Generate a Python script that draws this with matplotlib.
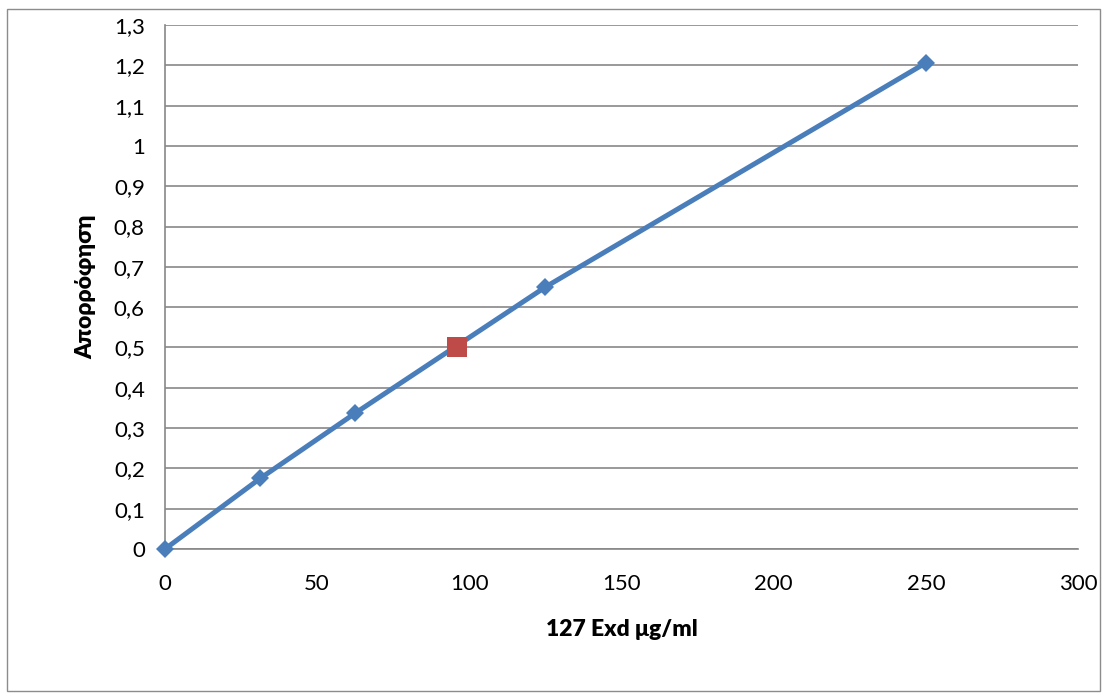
import matplotlib
matplotlib.use("Agg")
import matplotlib.pyplot as plt
from matplotlib.ticker import FuncFormatter, MultipleLocator
from matplotlib.patches import Rectangle

conc = [0, 31.25, 62.5, 125, 250]
absorb = [0, 0.175, 0.337, 0.650, 1.206]
sample_x = [96]
sample_y = [0.5]
x_label = "127 Exd μg/ml"
y_label = "Απορρόφηση"

plt.rcParams['font.family'] = ['Lato', 'DejaVu Sans']

W, H = 1106, 699
fig = plt.figure(figsize=(W / 100, H / 100), dpi=100)
fig.patches.append(Rectangle((7 / W, 1 - 691 / H), (1100 - 7) / W, (691 - 9) / H,
                             transform=fig.transFigure, fill=False,
                             edgecolor='#8c8c8c', linewidth=1.0))

ax_l, ax_r, ax_t, ax_b = 165, 1078, 25, 549
ax = fig.add_axes([ax_l / W, 1 - ax_b / H, (ax_r - ax_l) / W, (ax_b - ax_t) / H])
ax.plot(conc, absorb, color='#4a7ebb', linewidth=3.6, marker='D',
        markersize=9.5, markerfacecolor='#4a7ebb', markeredgewidth=0,
        zorder=3, clip_on=False)
ax.plot(sample_x, sample_y, linestyle='none', marker='s', markersize=14,
        markerfacecolor='#be4b48', markeredgewidth=0, zorder=4, clip_on=False)

ax.set_xlim(0, 300)
ax.set_ylim(0, 1.3)
ax.xaxis.set_major_locator(MultipleLocator(50))
ax.yaxis.set_major_locator(MultipleLocator(0.1))
fmt = FuncFormatter(lambda v, p: ('%g' % round(v, 2)).replace('.', ','))
ax.xaxis.set_major_formatter(fmt)
ax.yaxis.set_major_formatter(fmt)
ax.grid(axis='y', color='#878787', linewidth=1.2)
ax.set_axisbelow(True)
for s in ['top', 'right']:
    ax.spines[s].set_visible(False)
for s in ['left', 'bottom']:
    ax.spines[s].set_color('#878787')
    ax.spines[s].set_linewidth(1.2)
ax.tick_params(axis='both', length=0, labelsize=16, colors='black')
ax.tick_params(axis='y', pad=14.5)
ax.tick_params(axis='x', pad=18)
for lbl in ax.get_xticklabels() + ax.get_yticklabels():
    lbl.set_clip_on(False)

ax.set_xlabel(x_label, fontsize=16.5, fontweight='heavy')
ax.set_ylabel(y_label, fontsize=16.5, fontweight='heavy')
ax.xaxis.set_label_coords(0.5, (ax_b - 619) / (ax_b - ax_t))
ax.yaxis.set_label_coords((96 - ax_l) / (ax_r - ax_l), 0.5)

fig.savefig("out.png", dpi=100)
